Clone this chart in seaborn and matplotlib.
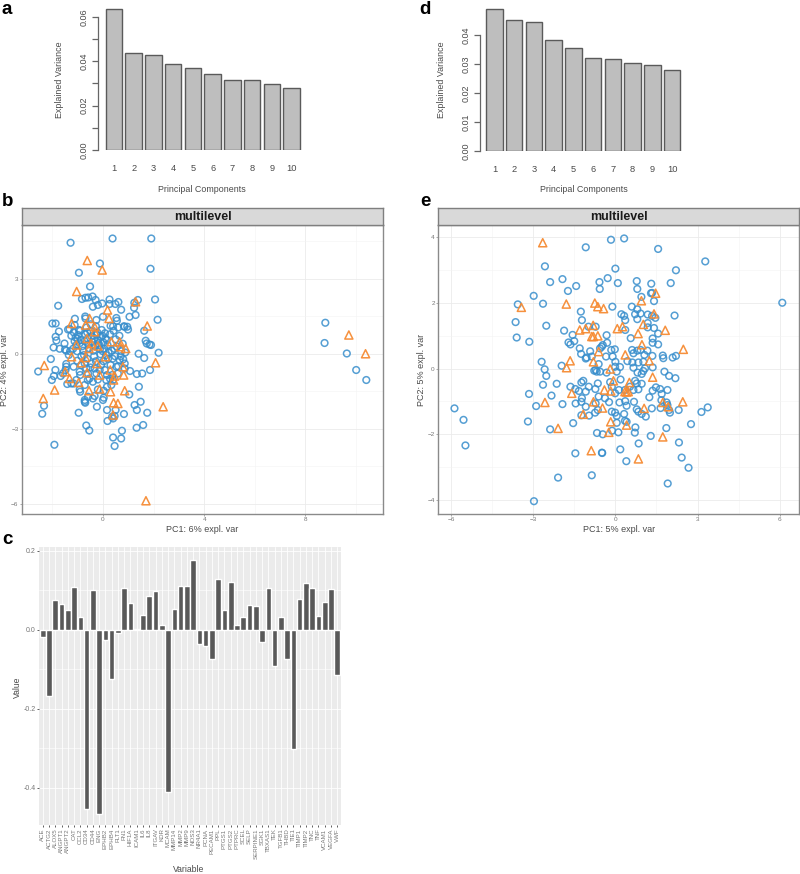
import numpy as np
import pandas as pd
import seaborn as sns
import matplotlib
matplotlib.use('Agg')
import matplotlib.pyplot as plt

W, H = 800, 874

components = ['1', '2', '3', '4', '5', '6', '7', '8', '9', '10']
var_a = [.0636, .0438, .0426, .0388, .0370, .0343, .0316, .0314, .0296, .0277]
var_d = [.0489, .0451, .0445, .0382, .0354, .0320, .0316, .0303, .0298, .0279]

genes = ['ACE', 'ACTG2', 'ALOX5', 'ANGPT1', 'ANGPT2', 'CAT', 'CCL2', 'CD34', 'CD44', 'ENG',
         'EPHB2', 'EPHB4', 'FLT1', 'FN1', 'HIF1A', 'ICAM1', 'IL6', 'IL8', 'ITGAV', 'KDR',
         'MCAM', 'MMP14', 'MMP2', 'MMP9', 'NOS3', 'NR4A1', 'PCNA', 'PECAM1', 'PPL', 'PTGS1',
         'PTGS2', 'PTPRC', 'SCEL', 'SELP', 'SERPINE1', 'SGK1', 'TBXAS1', 'TEK', 'TGFB1', 'THBD',
         'TIE1', 'TIMP1', 'TIMP2', 'TNC', 'TNF', 'VCAM1', 'VEGFA', 'VWF']
loadings = [-.019, -.167, .075, .065, .05, .108, .032, -.453, .102, -.467,
            -.025, -.125, -.008, .106, .067, .002, .038, .085, .098, .012,
            -.41, .052, .112, .112, .177, -.037, -.041, -.075, .13, .05,
            .121, .012, .032, .064, .06, -.032, .106, -.092, .032, -.075,
            -.301, .078, .119, .105, .034, .07, .103, -.115]

b_blue = [(-1.28, 4.44), (.38, 4.61), (1.91, 4.61), (-.12, 3.61), (1.88, 3.4), (-.95, 3.24), (-.51, 2.69),
          (-.83, 2.19), (-.69, 2.24), (-.58, 2.25), (-.41, 2.29), (-.29, 2.15), (-.4, 1.88), (-.2, 1.95),
          (-.03, 2.01), (.26, 2.17), (.26, 1.99), (.49, 1.99), (.61, 2.07), (.72, 1.76), (-1.77, 1.92),
          (1.24, 2.04), (1.38, 2.15), (2.06, 2.17), (1.23, 1.84), (1.29, 1.55), (1.05, 1.48), (2.16, 1.36),
          (-1.11, 1.4), (-.7, 1.49), (-.69, 1.41), (.53, 1.43), (.55, 1.32), (-.26, 1.35), (0, 1.48),
          (-2.0, 1.21), (-1.87, 1.21), (-1.74, .89), (-1.87, .68), (-1.84, .53), (-1.95, .25), (-1.71, .2),
          (-1.52, .41), (-1.5, .17), (-1.38, .97), (-1.32, .99), (-1.12, 1.15), (.83, 1.1), (.96, 1.08),
          (.99, .97), (1.69, .52), (1.73, .41), (1.84, .37), (1.9, .35), (1.63, .92),
          (-1.25, .72), (-1.15, .85), (-1.08, .65), (-1.12, .5), (-1.05, .35), (-1.18, .2), (-1.02, .1),
          (-.98, .75), (-.9, .92), (-.88, .55), (-.82, .3), (-.78, .12), (-.75, -.05), (-.7, .78), (-.65, 1.05),
          (-.6, .6), (-.58, .38), (-.55, .22), (-.5, .9), (-.45, .7), (-.42, .48), (-.38, .12), (-.35, -.1),
          (-.3, .3), (-.28, 1.1), (-.22, .85), (-.2, .55), (-.15, .35), (-.12, .18), (-.1, -.02), (-.08, .68),
          (-.05, .95), (.02, .45), (.05, .2), (.08, .82), (.1, .62), (.12, -.05), (.18, .35), (.22, .05),
          (.28, .78), (.3, 1.12), (.35, .12), (.38, -.2), (.42, .92), (.5, .58), (.55, .28), (.6, 1.05),
          (.65, .72), (.7, -.1), (.78, .4), (.85, 1.08), (.88, .05), (.4, 1.1), (-1.35, -.05), (-1.3, .1),
          (-1.45, .12), (-.95, .95), (-1.0, .6), (-.92, .42), (-.72, .5), (-.62, .85), (-.48, 1.18), (-.35, .6),
          (-.25, .75), (-.18, .42), (-.02, .72), (.0, .1), (.15, .55), (.2, -.2), (.45, .2), (.72, .1), (.8, -.22),
          (-2.56, -.71), (-2.06, -.21), (-2.02, -1.05), (-1.94, -.89), (-1.88, -.65), (-1.67, -.89),
          (-1.45, -.41), (-1.45, -.52), (-1.48, -.65), (-1.41, -1.21), (-1.16, -1.19), (-1.58, -.79),
          (-2.33, -2.08), (-2.4, -2.4), (-.96, -2.36), (-1.92, -3.64), (-.66, -2.87), (-.54, -3.07),
          (-.72, -1.92), (-.72, -1.85), (-.7, -1.96), (-.24, -2.12), (-.92, -1.43), (-.9, -1.52), (-.59, -1.72),
          (-.4, -1.79), (-.33, -1.69), (.03, -1.48), (.03, -1.76), (0, -1.85), (-.2, -1.43), (.16, -2.25),
          (.5, -2.25), (.18, -2.69), (.4, -2.59), (.46, -2.49), (.36, -2.52), (.83, -2.41), (1.25, -2.05),
          (1.49, -1.92), (1.34, -2.25), (1.75, -2.36), (1.33, -2.96), (1.59, -2.85), (.75, -3.08), (.4, -3.35),
          (.72, -3.39), (.46, -3.69), (1.04, -1.63), (1.42, -1.32), (1.34, -.81), (1.55, -.79), (1.86, -.65),
          (1.07, -.69), (2.2, .04), (1.41, 0), (1.63, -.17),
          (-.92, -.72), (-.9, -.85), (-.86, -.45), (-.72, -.39), (-.66, -.59), (-.59, -.79), (-.53, -.99),
          (-.4, -1.12), (-.46, -.39), (-.33, -.59), (-.26, -.79), (-.13, -.65), (-.2, -1.03), (-.07, -.45),
          (.07, -.65), (.16, -.85), (.13, -1.05), (.33, -1.25), (.4, -1.05), (.16, -1.32), (.53, -.52),
          (.66, -.25), (.86, -.39), (.86, -.59), (.59, -.79), (.37, -.85), (-1.05, -1.05), (-1.25, -1.19),
          (-1.16, -.52), (-1.02, -.28), (-.85, -.1), (-.62, -.2), (-.5, -.55), (-.28, -.3), (.02, -.3), (.3, -.45),
          (.48, -.1), (.6, -.5), (.28, -1.0), (-.72, -1.25), (-.6, -1.05),
          (8.79, 1.24), (8.76, .43), (9.64, .01), (10.01, -.65), (10.41, -1.05)]
b_orange = [(-.62, 3.73), (-.03, 3.35), (-1.04, 2.49), (.18, 1.75), (1.29, 2.08), (-1.24, 1.21), (-.53, 1.41),
            (.24, 1.41), (1.75, 1.11), (-.69, 1.15), (-.33, 1.08), (-.33, .88), (-.63, .61), (-.46, .41),
            (-1.05, .35), (-.2, .31), (-.55, .21), (.33, .48), (.66, .48), (.69, .28), (.9, .21), (-1.24, -.12),
            (-.69, -.15), (.1, -.12), (-2.32, -.47), (-.86, -.36), (-.24, -.39), (2.08, -.36), (.82, -.85),
            (.79, -.52), (.29, -.65), (-.13, -.85), (.46, -.89), (-.63, -.76), (-1.49, -.72), (-1.32, -.99),
            (-.96, -1.15), (.42, -1.05), (-1.91, -1.45), (-2.36, -1.79), (-.55, -1.48), (-.13, -1.41), (.3, -1.52),
            (.86, -1.48), (.42, -1.96), (.59, -1.99), (2.38, -2.12), (.4, -2.45), (1.7, -5.88), (9.72, .75), (10.38, 0)]

e_blue = [(-.16, 3.93), (.32, 3.97), (-1.08, 3.7), (1.56, 3.65), (3.28, 3.27), (-2.57, 3.12), (0, 3.05), (2.21, 3.0),
          (-.28, 2.76), (-1.93, 2.73), (-2.38, 2.64), (-.58, 2.64), (-1.43, 2.52), (.09, 2.61), (.78, 2.67),
          (1.31, 2.59), (2.02, 2.61), (-1.73, 2.37), (-.57, 2.43), (.8, 2.43), (1.34, 2.31), (1.3, 2.3), (-2.98, 2.22),
          (.95, 2.19), (1.41, 2.06), (6.09, 2.01), (-3.56, 1.96), (-2.64, 1.98), (-.11, 1.89), (.6, 1.89), (.8, 1.81),
          (-1.26, 1.74), (.22, 1.66), (.32, 1.61), (.72, 1.66), (1.18, 1.65), (.92, 1.68), (2.16, 1.62), (1.34, 1.61),
          (1.46, 1.55), (.36, 1.48), (.8, 1.51), (-1.22, 1.48), (-3.64, 1.42), (-2.52, 1.31), (-.98, 1.28), (-.72, 1.28),
          (1.18, 1.39), (1.18, 1.26), (1.41, 1.24), (.36, 1.18), (-1.87, 1.16), (1.56, 1.07), (-1.56, 1.03), (.56, .93),
          (-.32, 1.02), (-3.6, .95), (-3.14, .82), (-1.5, .84), (-1.71, .8), (-1.64, .74), (-.46, .72), (-.5, .67),
          (1.36, .92), (1.36, .79), (1.56, .74), (-.3, .79), (-1.3, .62), (-1.25, .45), (-1.05, .34), (-.92, .53),
          (-1.08, .31), (-.86, .37), (-.56, .62), (-.34, .37), (-.1, .37), (-.15, .57), (-.02, .59), (.61, .57), (.66, .47),
          (.8, .55), (.92, .57), (1.17, .55), (1.06, .42), (1.35, .39), (1.73, .4), (1.75, .32), (2.09, .34), (2.21, .39),
          (-2.69, .21), (-1.96, .09), (-.61, .14), (.44, .23), (0, .21), (.17, .05), (-.01, .06), (.62, .19), (.66, .03),
          (.84, .19), (1.02, .21), (1.08, .01), (1.36, .04), (-2.58, -.02), (-2.52, -.22), (.81, -.12), (1.02, -.07),
          (.96, -.16), (1.79, -.09), (1.96, -.22), (2.19, -.29), (-.72, -.04), (-.68, -.09), (-.77, -.06), (-.56, -.09),
          (-.32, -.12), (.05, -.09), (-2.64, -.49), (-2.14, -.46), (-1.64, -.55), (-1.46, -.62), (-1.17, -.37), (-1.24, -.42),
          (-1.08, -.7), (-1.33, -.68), (-.97, -.55), (-.64, -.45), (.19, -.33), (-.19, -.41), (.72, -.37), (.78, -.45),
          (.96, -.46), (1.48, -.57), (1.63, -.62), (1.9, -.65), (-3.15, -.77), (-2.33, -.82), (-2.89, -1.14), (-1.93, -1.08),
          (-1.45, -1.06), (-1.22, -.9), (-1.24, -1.01), (-1.08, -1.16), (-.73, -.62), (-.72, -1.06), (-.61, -.85), (-.38, -.9),
          (-.23, -1.02), (.15, -1.03), (.36, -.99), (.41, -1.13), (.68, -1.01), (1.24, -.87), (1.36, -.67), (1.69, -.77),
          (1.68, -.96), (1.87, -1.03), (1.9, -1.11), (2.31, -1.26), (1.96, -1.26), (1.99, -1.34), (1.65, -1.2), (1.33, -1.21),
          (.78, -1.24), (.84, -1.31), (.96, -1.38), (1.11, -1.46), (-.13, -1.31), (-.01, -1.34), (.05, -1.44), (.32, -1.38),
          (3.14, -1.32), (3.37, -1.18), (-5.87, -1.21), (-5.54, -1.56), (-5.47, -2.34), (-3.19, -1.61), (-1.54, -1.66),
          (-2.38, -1.85), (-1.24, -1.42), (-.96, -1.43), (-.74, -1.34), (-.64, -1.26), (.35, -1.59), (.41, -1.62), (.05, -1.65),
          (2.76, -1.69), (.73, -1.79), (1.86, -1.81), (-.12, -1.89), (.11, -1.94), (.71, -1.95), (-.67, -1.96), (-.46, -2.0),
          (1.29, -2.05), (2.32, -2.25), (.85, -2.28), (-1.46, -2.58), (-.49, -2.56), (-.48, -2.57), (.18, -2.46), (2.42, -2.71),
          (.4, -2.82), (2.67, -3.02), (-.86, -3.25), (-2.09, -3.32), (1.91, -3.5), (-2.97, -4.04), (.53, -.55), (.35, -.65),
          (.84, -.63), (.13, -.65), (-.13, -.55), (-.01, -.75), (.66, -.65)]
e_orange = [(-2.65, 3.84), (-3.43, 1.87), (-1.79, 1.97), (-.75, 2.0), (-.64, 1.89), (-.43, 1.83), (.95, 2.07), (1.47, 2.3),
            (1.41, 1.67), (-1.3, 1.18), (-1.08, 1.22), (-.81, 1.32), (-.86, .98), (-.8, .98), (-.64, 1.0), (.07, 1.22),
            (.26, 1.28), (.83, 1.07), (1.02, 1.35), (1.82, 1.17), (.97, .73), (2.48, .59), (.36, .42), (-.61, .52), (-.8, .21),
            (-1.65, .24), (-1.78, .03), (1.24, .24), (-.19, -.01), (1.36, -.26), (-.07, -.37), (.51, -.42), (-.4, -.65),
            (-.17, -.68), (.35, -.7), (.41, -.71), (.47, -.7), (-1.59, -.75), (-2.57, -1.03), (-.8, -1.01), (-.47, -1.2),
            (-1.17, -1.39), (1.05, -1.21), (1.73, -1.03), (1.93, -1.16), (2.46, -1.01), (-.17, -1.62), (.41, -1.72),
            (-.24, -1.94), (-2.09, -1.82), (1.73, -2.08), (-.88, -2.5), (.84, -2.75)]

BLUE = '#388ECC'
ORANGE = '#F68B33'
TXT = '#4a4a4a'

sns.set_theme(style='white')
plt.rcParams['font.family'] = ['Liberation Sans', 'DejaVu Sans']

fig = plt.figure(figsize=(W / 100, H / 100), dpi=100)


def box(l, t, r, b):
    # pixel box from the top left corner -> figure fractions
    return [l / W, 1 - b / H, (r - l) / W, (b - t) / H]


def label(x, y, s, **kw):
    kw.setdefault('ha', 'center')
    kw.setdefault('va', 'center')
    kw.setdefault('color', TXT)
    fig.text(x / W, 1 - y / H, s, **kw)


def scree(pos, values, xlim, ylim, top_tick, labelled):
    ax = fig.add_axes(box(*pos))
    sns.barplot(x=components, y=values, color='#bebebe', saturation=1, width=.84,
                edgecolor='#5a5a5a', linewidth=1, ax=ax)
    ax.set_xlim(*xlim)
    ax.set_ylim(*ylim)
    sns.despine(ax=ax, bottom=True)
    ax.spines['left'].set_bounds(0, top_tick)
    ax.spines['left'].set_color('#666666')
    ax.spines['left'].set_linewidth(.9)
    ax.set_yticks(labelled)
    ax.set_yticks([v for v in np.arange(0, top_tick + .001, .01) if min(abs(v - t) for t in labelled) > .001], minor=True)
    ax.set_yticklabels(['%.2f' % v for v in labelled], rotation=90, va='center', fontsize=6.5, color=TXT)
    ax.tick_params(axis='y', which='both', left=True, length=4, width=.9, color='#666666', pad=3)
    ax.tick_params(axis='x', length=0, labelsize=6.7, labelcolor=TXT, pad=10)
    ax.set_xlabel('')
    ax.set_ylabel('')
    ax.patch.set_alpha(0)
    return ax


def pca(pos, blue, orange, xlim, ylim, xmaj, xmin, ymaj, ymin, xlab, ylab):
    l, t, r, b = pos
    ax = fig.add_axes(box(l, t, r, b))
    df_b = pd.DataFrame(blue, columns=['pc1', 'pc2'])
    df_o = pd.DataFrame(orange, columns=['pc1', 'pc2'])
    sns.scatterplot(data=df_b, x='pc1', y='pc2', marker='o', s=23, facecolor='none', edgecolor=BLUE,
                    linewidth=1.1, alpha=.85, ax=ax, zorder=3)
    sns.scatterplot(data=df_o, x='pc1', y='pc2', marker='^', s=34, facecolor='none', edgecolor=ORANGE,
                    linewidth=1.1, alpha=.95, ax=ax, zorder=4)
    ax.set_xlim(*xlim)
    ax.set_ylim(*ylim)
    ax.set_xticks(xmaj)
    ax.set_yticks(ymaj)
    ax.set_xticks(xmin, minor=True)
    ax.set_yticks(ymin, minor=True)
    ax.grid(True, which='major', color='#ebebeb', linewidth=.6)
    ax.grid(True, which='minor', color='#f3f3f3', linewidth=.4)
    ax.set_axisbelow(True)
    ax.tick_params(which='major', bottom=True, left=True, length=1.5, width=.5, color='#888888',
                   labelsize=4.6, labelcolor='#777777', pad=1)
    ax.tick_params(which='minor', length=0)
    for s in ax.spines.values():
        s.set_color('#8a8a8a')
        s.set_linewidth(1)
    ax.set_xlabel('')
    ax.set_ylabel('')
    strip = fig.add_axes(box(l, 208, r, t), facecolor='#d9d9d9')
    strip.set_xticks([])
    strip.set_yticks([])
    for s in strip.spines.values():
        s.set_color('#7f7f7f')
        s.set_linewidth(1)
    strip.text(.5, .47, 'multilevel', transform=strip.transAxes, ha='center', va='center',
               fontsize=9, fontweight='bold', color='#1a1a1a')
    label((l + r) / 2, 529, xlab, fontsize=6.5)
    label(l - 17, 370, ylab, rotation=90, fontsize=6.5)
    return ax


# a
scree((98, 5, 305, 150), var_a, (-.805, 9.68), (0, .0653), .06, [0, .02, .04, .06])
label(202, 190, 'Principal Components', fontsize=6.4)
label(60, 80, 'Explained Variance', rotation=90, fontsize=6.4)

# d
scree((480, 5, 690, 151), var_d, (-.73, 9.91), (0, .0503), .04, [0, .01, .02, .03, .04])
label(584, 190, 'Principal Components', fontsize=6.4)
label(442, 80, 'Explained Variance', rotation=90, fontsize=6.4)

# b
pca((22, 225, 383, 514), b_blue, b_orange, (-3.2, 11.07), (-6.41, 5.15),
    [0, 4, 8], [-2, 2, 6, 10], [-6, -3, 0, 3], [-4.5, -1.5, 1.5, 4.5],
    'PC1: 6% expl. var', 'PC2: 4% expl. var')

# e
pca((438.3, 225, 799, 514), e_blue, e_orange, (-6.46, 6.70), (-4.43, 4.38),
    [-6, -3, 0, 3, 6], [-4.5, -1.5, 1.5, 4.5], [-4, -2, 0, 2, 4], [-3, -1, 1, 3],
    'PC1: 5% expl. var', 'PC2: 5% expl. var')

# c
ax = fig.add_axes(box(39, 547, 341, 825), facecolor='#ebebeb')
sns.barplot(x=genes, y=loadings, color='#595959', saturation=1, width=.9, ax=ax, zorder=3)
ax.set_xlim(-.6, 47.6)
ax.set_ylim(-.4945, .21)
ax.set_yticks([-.4, -.2, 0, .2])
ax.set_yticklabels(['-0.4', '-0.2', '0.0', '0.2'])
ax.set_yticks([-.3, -.1, .1], minor=True)
ax.grid(True, which='major', color='white', linewidth=.6)
ax.grid(True, which='minor', axis='y', color='white', linewidth=.4)
ax.set_axisbelow(True)
sns.despine(ax=ax, left=True, bottom=True)
ax.tick_params(axis='y', which='major', left=True, length=1.5, width=.6, color='#444444',
               labelsize=5, labelcolor='#777777', pad=1)
ax.tick_params(axis='y', which='minor', length=0)
ax.tick_params(axis='x', bottom=True, length=1.5, width=.6, color='#444444', labelsize=4.4,
               labelcolor='#777777', labelrotation=90, pad=1)
ax.set_xlabel('')
ax.set_ylabel('')
label(189, 870, 'Variable', fontsize=6.2)
label(17, 687, 'Value', rotation=90, fontsize=6.2)

# panel letters
for s, x, y in [('a', 7, 9), ('b', 8, 201), ('c', 7, 540), ('d', 425, 10), ('e', 425, 202)]:
    label(x, y, s, fontsize=13.5, fontweight='bold', color='black')

fig.savefig('out.png', dpi=100)
